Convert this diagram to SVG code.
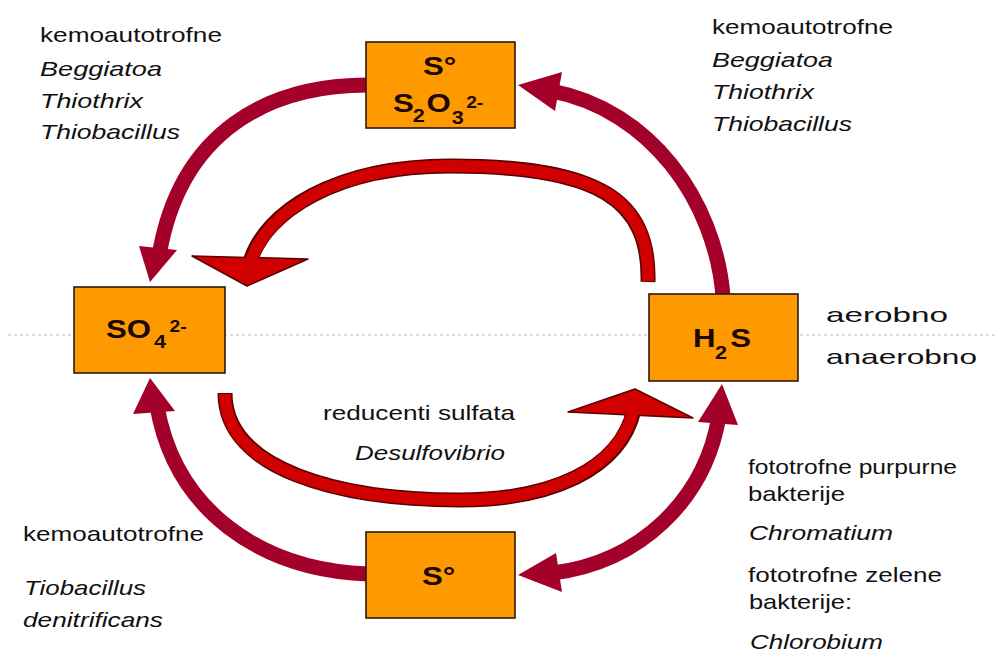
<svg xmlns="http://www.w3.org/2000/svg" width="995" height="653" viewBox="0 0 995 653">
<style>
.t{font-family:"Liberation Sans",Arial,sans-serif;font-size:21px;fill:#111}
.i{font-style:italic}
.box{fill:#ff9900;stroke:#2a1a10;stroke-width:1.6}
.lbl{font-family:"Liberation Sans",Arial,sans-serif;font-weight:bold;font-size:26px;fill:#1a0800}
.sub{font-size:18px}
.sup{font-size:16px}
.out{fill:none;stroke:#a3002a;stroke-width:15}
.outh{fill:#a3002a}
.ino{fill:none;stroke:#5a0000;stroke-width:15}
.in{fill:none;stroke:#d10000;stroke-width:12}
.inh{fill:#d10000;stroke:#5a0000;stroke-width:1.5;stroke-linejoin:round}
</style>
<rect x="0" y="0" width="995" height="653" fill="#ffffff"/>
<line x1="8" y1="335" x2="995" y2="335" stroke="#b8b8b8" stroke-width="1" stroke-dasharray="3 3"/>

<g id="connectors">
  <!-- S°/S2O3 -> SO4 -->
  <path class="out" d="M368,85 C270,85 180,130 159,256"/>
  <polygon class="outh" points="139,246 177,250 150,282"/>
  <!-- H2S -> S°/S2O3 -->
  <path class="out" d="M723,296 C715,200 650,110 552,91"/>
  <polygon class="outh" points="562,72 555,111 518,85"/>
  <!-- S° (bottom) -> SO4 -->
  <path class="out" d="M368,574 C260,570 175,510 157,406"/>
  <polygon class="outh" points="133,414 175,411 150,378"/>
  <!-- S° (bottom) <-> H2S -->
  <path class="out" d="M719,416 C705,500 640,562 553,573"/>
  <polygon class="outh" points="698,422 738,425 722,384"/>
  <polygon class="outh" points="556,553 562,592 518,575"/>
  <!-- inner: H2S -> SO4 (aerobic) -->
  <path class="ino" d="M648,282 C650,200 600,166 450,166 C335,166 265,212 250,262"/>
  <polygon class="inh" points="192,256 308,259 247,286"/>
  <path class="in" d="M648,281 C650,200 600,166 450,166 C335,166 265,212 250,264"/>
  <!-- inner: SO4 -> H2S (anaerobic) -->
  <path class="ino" d="M225,393 C225,470 340,500 460,500 C550,500 620,470 634,410"/>
  <polygon class="inh" points="568,412 635,389 693,418"/>
  <path class="in" d="M225,394 C225,470 340,500 460,500 C550,500 620,470 634,408"/>
</g>

<g id="node-s0-s2o3">
  <rect class="box" x="366" y="42" width="149" height="86"/>
  <text class="lbl" transform="translate(423,75) scale(1.2,1)">S°</text>
  <text class="lbl" transform="translate(393,112) scale(1.2,1)"><tspan x="0" y="0">S</tspan><tspan class="sub" x="16.5" y="10">2</tspan><tspan x="28" y="0">O</tspan><tspan class="sub" x="49" y="12">3</tspan><tspan class="sup" x="61" y="-4">2-</tspan></text>
</g>

<g id="node-so4">
  <rect class="box" x="74" y="287" width="151" height="86"/>
  <text class="lbl" transform="translate(106,338) scale(1.2,1)"><tspan x="0" y="0">SO</tspan><tspan class="sub" x="40" y="10">4</tspan><tspan class="sup" x="53" y="-6">2-</tspan></text>
</g>

<g id="node-h2s">
  <rect class="box" x="649" y="294" width="149" height="87"/>
  <text class="lbl" transform="translate(693,347) scale(1.2,1)"><tspan x="0" y="0">H</tspan><tspan class="sub" x="18.3" y="12">2</tspan><tspan x="31" y="0">S</tspan></text>
</g>

<g id="node-s0">
  <rect class="box" x="366" y="532" width="149" height="86"/>
  <text class="lbl" transform="translate(422,585) scale(1.2,1)">S°</text>
</g>

<g id="label-top-left">
  <text class="t" x="40" y="42" textLength="182" lengthAdjust="spacingAndGlyphs">kemoautotrofne</text>
  <text class="t i" x="40" y="76" textLength="122" lengthAdjust="spacingAndGlyphs">Beggiatoa</text>
  <text class="t i" x="40" y="108" textLength="103" lengthAdjust="spacingAndGlyphs">Thiothrix</text>
  <text class="t i" x="40" y="139" textLength="140" lengthAdjust="spacingAndGlyphs">Thiobacillus</text>
</g>

<g id="label-top-right">
  <text class="t" x="712" y="34" textLength="181" lengthAdjust="spacingAndGlyphs">kemoautotrofne</text>
  <text class="t i" x="712" y="67" textLength="121" lengthAdjust="spacingAndGlyphs">Beggiatoa</text>
  <text class="t i" x="712" y="99" textLength="102" lengthAdjust="spacingAndGlyphs">Thiothrix</text>
  <text class="t i" x="712" y="131" textLength="140" lengthAdjust="spacingAndGlyphs">Thiobacillus</text>
</g>

<g id="label-zones">
  <text class="t" x="826" y="322" textLength="122" lengthAdjust="spacingAndGlyphs">aerobno</text>
  <text class="t" x="826" y="364" textLength="151" lengthAdjust="spacingAndGlyphs">anaerobno</text>
</g>

<g id="label-center">
  <text class="t" x="323" y="420" textLength="192" lengthAdjust="spacingAndGlyphs">reducenti sulfata</text>
  <text class="t i" x="355" y="460" textLength="150" lengthAdjust="spacingAndGlyphs">Desulfovibrio</text>
</g>

<g id="label-bottom-left">
  <text class="t" x="23" y="541" textLength="181" lengthAdjust="spacingAndGlyphs">kemoautotrofne</text>
  <text class="t i" x="24" y="595" textLength="122" lengthAdjust="spacingAndGlyphs">Tiobacillus</text>
  <text class="t i" x="23" y="627" textLength="140" lengthAdjust="spacingAndGlyphs">denitrificans</text>
</g>

<g id="label-bottom-right">
  <text class="t" x="748" y="474" textLength="209" lengthAdjust="spacingAndGlyphs">fototrofne purpurne</text>
  <text class="t" x="748" y="501" textLength="97" lengthAdjust="spacingAndGlyphs">bakterije</text>
  <text class="t i" x="749" y="540" textLength="144" lengthAdjust="spacingAndGlyphs">Chromatium</text>
  <text class="t" x="748" y="582" textLength="194" lengthAdjust="spacingAndGlyphs">fototrofne zelene</text>
  <text class="t" x="749" y="609" textLength="103" lengthAdjust="spacingAndGlyphs">bakterije:</text>
  <text class="t i" x="750" y="649" textLength="133" lengthAdjust="spacingAndGlyphs">Chlorobium</text>
</g>
</svg>
